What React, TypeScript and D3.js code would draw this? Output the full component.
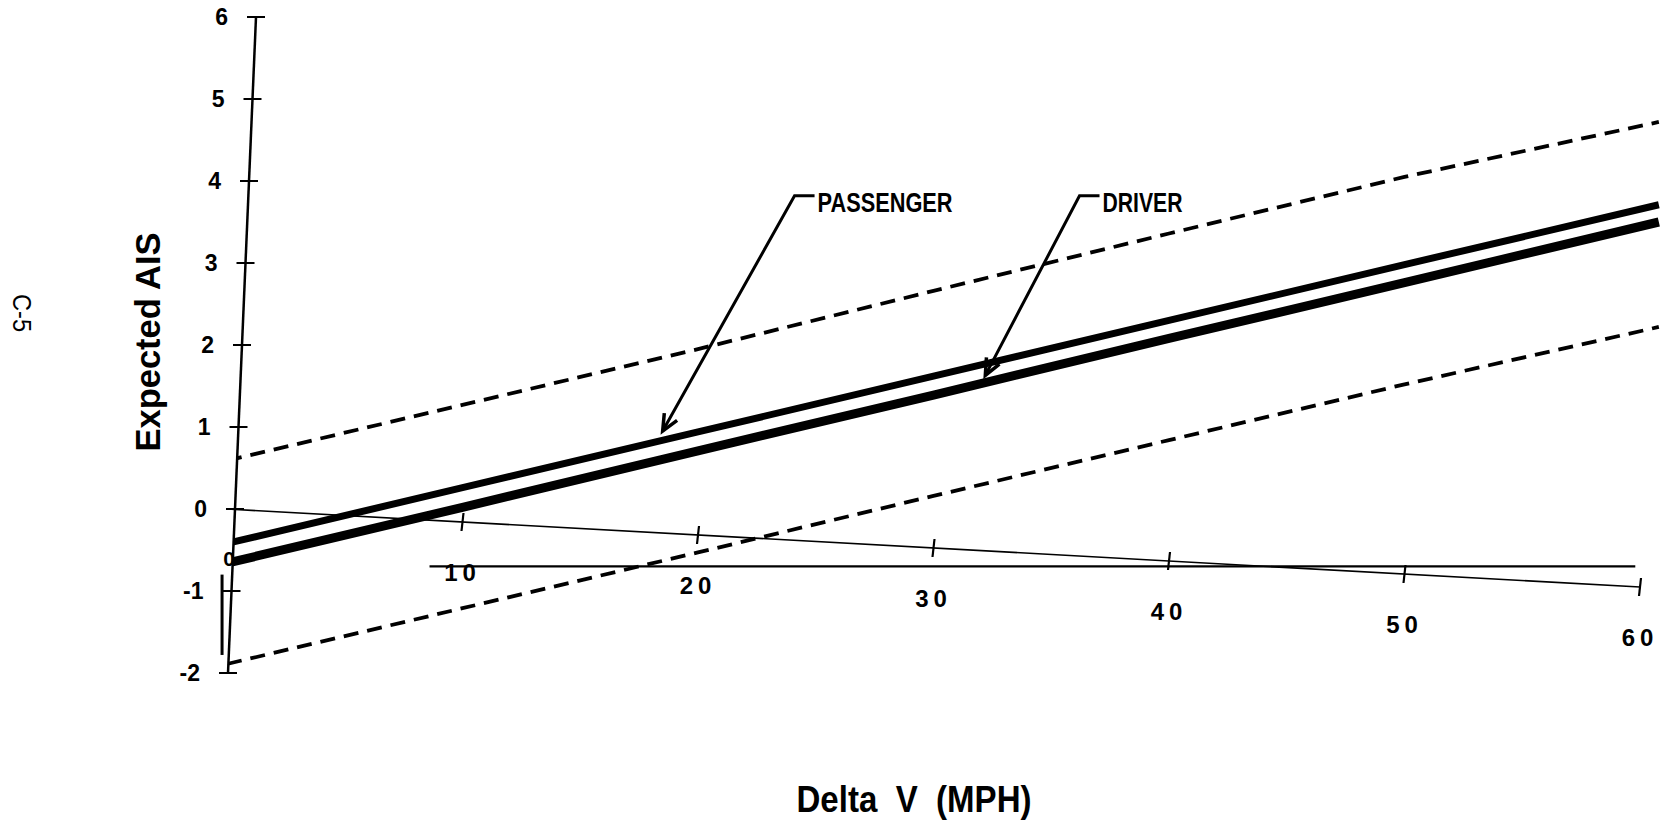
import React from 'react';
import * as d3 from 'd3';

const W = 1661;
const H = 825;

// Delta V (MPH) where the curves were read
const deltaV = [0, 10, 20, 30, 40, 50, 60.8];
// Expected AIS
const upperBound = [0.59, 1.27, 1.95, 2.66, 3.36, 4.05, 4.72];
const passenger = [-0.42, 0.26, 0.94, 1.62, 2.3, 2.98, 3.71];
const driver = [-0.66, 0.02, 0.71, 1.39, 2.08, 2.76, 3.5];
const lowerBound = [-1.89, -1.21, -0.53, 0.16, 0.84, 1.52, 2.22];

const xTicks = [10, 20, 30, 40, 50, 60];
const yTicks = [-2, -1, 0, 1, 2, 3, 4, 5, 6];

const annotations = [
  { label: 'PASSENGER', cornerX: 24.1, cornerY: 3.82, tipX: 18.5, tipY: 0.95, textLen: 135 },
  { label: 'DRIVER', cornerX: 36.2, cornerY: 3.82, tipX: 32.2, tipY: 1.63, textLen: 80 },
];

const FONT = '"Liberation Sans", Arial, Helvetica, sans-serif';

const App: React.FC = () => {
  const x = d3.scaleLinear().domain([0, 60]).range([227, 1640]);
  const y = d3.scaleLinear().domain([-2, 6]).range([673, 17]);

  // the scanned axes are not square: the y axis leans right, the x axis drops
  const Y_LEAN = 28 / 656;
  const X_DROP = 78 / 1413;
  const yAxisX = (py: number) => x(0) + 1 + (y(-2) - py) * Y_LEAN;
  const xAxisY = (px: number) => y(0) + (px - x(0)) * X_DROP;

  const line = d3.line<number>()
    .x((_, i) => x(deltaV[i]))
    .y(d => y(d));

  const clipPts = [
    [yAxisX(0), 0], [W, 0], [W, H], [yAxisX(H), H],
  ].map(p => p.join(',')).join(' ');

  const arrowHead = (tx: number, ty: number, cx: number, cy: number) => {
    const ang = Math.atan2(cy - ty, cx - tx);
    const len = 18;
    const spread = 0.42;
    const a = [tx + len * Math.cos(ang - spread), ty + len * Math.sin(ang - spread)];
    const b = [tx + len * Math.cos(ang + spread), ty + len * Math.sin(ang + spread)];
    return `M${a[0]},${a[1]}L${tx},${ty}L${b[0]},${b[1]}`;
  };

  return (
    <svg width={W} height={H} style={{ position: 'fixed', left: 0, top: 0, background: '#fff' }}>
      <defs>
        <clipPath id="plot-clip">
          <polygon points={clipPts} />
        </clipPath>
      </defs>

      {/* y axis */}
      <line x1={yAxisX(y(-2))} y1={y(-2)} x2={yAxisX(y(6))} y2={y(6)} stroke="#000" strokeWidth={2.5} />
      {yTicks.map(t => {
        const py = y(t);
        const ax = yAxisX(py);
        return (
          <g key={t}>
            <line x1={ax - 9} x2={ax + 9} y1={py} y2={py} stroke="#000" strokeWidth={2} />
            <text x={ax - 28} y={py + 8} textAnchor="end" fontFamily={FONT} fontWeight="bold" fontSize={23}>
              {t}
            </text>
          </g>
        );
      })}

      {/* x axis */}
      <line x1={x(0)} y1={xAxisY(x(0))} x2={x(60)} y2={xAxisY(x(60))} stroke="#000" strokeWidth={1.6} />
      {xTicks.map(t => {
        const px = x(t);
        const py = xAxisY(px);
        return (
          <g key={t}>
            <line x1={px + 1} x2={px - 1} y1={py - 9} y2={py + 9} stroke="#000" strokeWidth={2.2} />
            <text x={px} y={py + 59} textAnchor="middle" fontFamily={FONT} fontWeight="bold"
              fontSize={24} letterSpacing={5}>
              {t}
            </text>
          </g>
        );
      })}

      {/* stray rule and bar from the scan */}
      <line x1={x(8.6)} x2={x(59.8)} y1={y(-0.7)} y2={y(-0.7)} stroke="#000" strokeWidth={2.2} />
      <line x1={x(-0.21)} x2={x(-0.21)} y1={y(-0.8)} y2={y(-1.78)} stroke="#000" strokeWidth={3} />

      <g clipPath="url(#plot-clip)">
        <path d={line(upperBound) ?? ''} fill="none" stroke="#000" strokeWidth={3.8} strokeDasharray="15 9" />
        <path d={line(lowerBound) ?? ''} fill="none" stroke="#000" strokeWidth={3.8} strokeDasharray="15 9" />
        <path d={line(passenger) ?? ''} fill="none" stroke="#000" strokeWidth={7} />
        <path d={line(driver) ?? ''} fill="none" stroke="#000" strokeWidth={9} />
      </g>

      <text x={x(0) + 2} y={y(-0.6) + 8} textAnchor="middle" fontFamily={FONT} fontWeight="bold" fontSize={21}>0</text>

      {annotations.map(a => {
        const cx = x(a.cornerX);
        const cy = y(a.cornerY);
        const tx = x(a.tipX);
        const ty = y(a.tipY);
        return (
          <g key={a.label}>
            <path d={`M${cx + 20},${cy}L${cx},${cy}L${tx},${ty}`} fill="none" stroke="#000" strokeWidth={3} />
            <path d={arrowHead(tx, ty, cx, cy)} fill="none" stroke="#000" strokeWidth={3.5} />
            <text x={cx + 23} y={cy + 16} fontFamily={FONT} fontWeight="bold" fontSize={27}
              textLength={a.textLen} lengthAdjust="spacingAndGlyphs">
              {a.label}
            </text>
          </g>
        );
      })}

      {/* axis titles */}
      <text transform="translate(160,342) rotate(-90)" textAnchor="middle" fontFamily={FONT}
        fontWeight="bold" fontSize={35} textLength={219} lengthAdjust="spacingAndGlyphs">
        Expected AIS
      </text>
      <text x={914} y={812} textAnchor="middle" fontFamily={FONT} fontWeight="bold" fontSize={37}
        textLength={235} lengthAdjust="spacingAndGlyphs" style={{ whiteSpace: 'pre' }}>
        {'Delta  V  (MPH)'}
      </text>

      <text transform="translate(22,313) rotate(90)" textAnchor="middle" dy="0.35em" fontFamily={FONT}
        fontSize={25} textLength={38} lengthAdjust="spacingAndGlyphs">
        C-5
      </text>
    </svg>
  );
};

export default App;
